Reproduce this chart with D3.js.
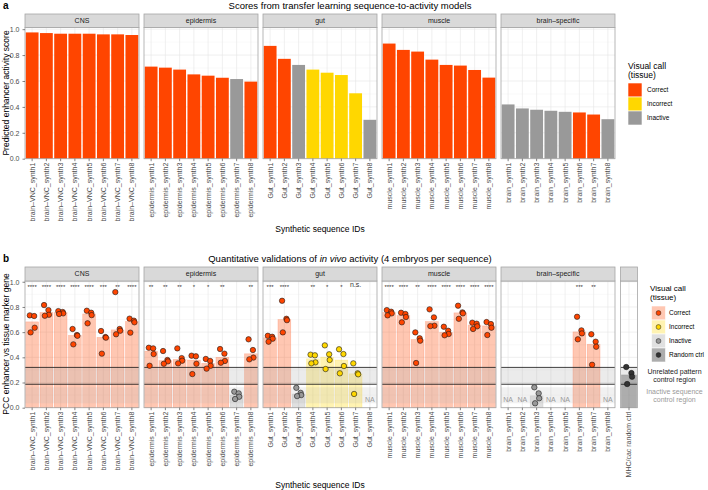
<!DOCTYPE html>
<html>
<head>
<meta charset="utf-8">
<script src="https://cdn.jsdelivr.net/npm/d3@7"></script>
<style>
  body { margin: 0; background: #fff; }
  svg { font-family: "Liberation Sans", Arial, sans-serif; }
  .axis path.domain { display: none; }
  .axis line { stroke: #333; stroke-width: 0.6; }
  .axis text { fill: #4d4d4d; font-size: 7px; }
</style>
</head>
<body>
<svg id="chart" width="708" height="490"></svg>
<script>
// ---------- data ----------
const facetNames = ["CNS", "epidermis", "gut", "muscle", "brain–specific"];

const idsCNS = ["brain–VNC_synth1", "brain–VNC_synth2", "brain–VNC_synth3", "brain–VNC_synth4",
  "brain–VNC_synth5", "brain–VNC_synth6", "brain–VNC_synth7", "brain–VNC_synth8"];
const idsEpidermis = ["epidermis_synth1", "epidermis_synth2", "epidermis_synth3", "epidermis_synth4",
  "epidermis_synth5", "epidermis_synth6", "epidermis_synth7", "epidermis_synth8"];
const idsGut = ["Gut_synth1", "Gut_synth2", "Gut_synth3", "Gut_synth4",
  "Gut_synth5", "Gut_synth6", "Gut_synth7", "Gut_synth8"];
const idsMuscle = ["muscle_synth1", "muscle_synth2", "muscle_synth3", "muscle_synth4",
  "muscle_synth5", "muscle_synth6", "muscle_synth7", "muscle_synth8"];
const idsBrain = ["brain_synth1", "brain_synth2", "brain_synth3", "brain_synth4",
  "brain_synth5", "brain_synth6", "brain_synth7", "brain_synth8"];
const idsRandom = ["MHC/cac random ctrl"];

// visual call per sequence
const callCNS = ["Correct", "Correct", "Correct", "Correct", "Correct", "Correct", "Correct", "Correct"];
const callEpidermis = ["Correct", "Correct", "Correct", "Correct", "Correct", "Correct", "Inactive", "Correct"];
const callGut = ["Correct", "Correct", "Inactive", "Incorrect", "Incorrect", "Incorrect", "Incorrect", "Inactive"];
const callMuscle = ["Correct", "Correct", "Correct", "Correct", "Correct", "Correct", "Correct", "Correct"];
const callBrain = ["Inactive", "Inactive", "Inactive", "Inactive", "Inactive", "Correct", "Correct", "Inactive"];

// panel a: predicted enhancer activity score
const predCNS = [0.975, 0.97, 0.965, 0.965, 0.965, 0.96, 0.96, 0.955];
const predEpidermis = [0.711, 0.703, 0.688, 0.651, 0.641, 0.625, 0.615, 0.595];
const predGut = [0.871, 0.771, 0.724, 0.688, 0.664, 0.646, 0.505, 0.30];
const predMuscle = [0.889, 0.840, 0.827, 0.765, 0.724, 0.719, 0.685, 0.626];
const predBrain = [0.419, 0.388, 0.378, 0.370, 0.362, 0.357, 0.341, 0.305];

// panel b: PCC per embryo (null = NA)
const pccCNS = [[0.733, 0.728, 0.635, 0.598], [0.815, 0.775, 0.738, 0.730], [0.767, 0.760, 0.749, 0.744],
  [0.625, 0.577, 0.571, 0.503], [0.770, 0.754, 0.735, 0.670], [0.609, 0.561, 0.556, 0.429],
  [0.918, 0.625, 0.611, 0.583], [0.707, 0.691, 0.678, 0.596]];
const pccEpidermis = [[0.476, 0.471, 0.426, 0.333], [0.450, 0.379, 0.368, 0.349], [0.471, 0.394, 0.373, 0.352],
  [0.413, 0.408, 0.349, 0.267], [0.387, 0.371, 0.333, 0.310], [0.466, 0.429, 0.371, 0.357],
  [0.127, 0.114, 0.087, 0.069], [0.543, 0.458, 0.398, 0.384]];
const pccGut = [[0.571, 0.563, 0.548, 0.524], [0.849, 0.706, 0.695, 0.598], [0.158, 0.118, 0.100, 0.092],
  [0.421, 0.416, 0.360, 0.352], [0.495, 0.424, 0.379, 0.307], [0.464, 0.426, 0.331, 0.273],
  [0.352, 0.273, 0.265, 0.109], null];
const pccMuscle = [[0.775, 0.762, 0.749, 0.733], [0.754, 0.744, 0.720, 0.678], [0.598, 0.551, 0.532, 0.355],
  [0.781, 0.717, 0.651, 0.648], [0.643, 0.611, 0.585, 0.575], [0.810, 0.757, 0.749, 0.706],
  [0.675, 0.667, 0.646, 0.625], [0.680, 0.664, 0.635, 0.577]];
const pccBrain = [null, null, [0.162, 0.114, 0.075, 0.035], null, null,
  [0.722, 0.614, 0.590, 0.543], [0.583, 0.524, 0.484, 0.341], null];
const pccRandom = [[0.323, 0.275, 0.246, 0.188]];

// significance labels
const starsCNS = ["****", "****", "****", "****", "****", "***", "**", "****"];
const starsEpidermis = ["**", "**", "**", "*", "*", "**", "", "**"];
const starsGut = ["***", "****", "", "**", "*", "*", "n.s.", ""];
const starsMuscle = ["****", "****", "**", "****", "****", "****", "****", "****"];
const starsBrain = ["", "", "", "", "", "***", "**", ""];

// control regions (PCC)
const unrelatedRegion = [0.186, 0.320];
const inactiveRegion = [0.035, 0.162];

const yTicks = [0, 0.2, 0.4, 0.6, 0.8, 1.0];
const yMinor = [0.1, 0.3, 0.5, 0.7, 0.9];
const callLevels = ["Correct", "Incorrect", "Inactive"];

// ---------- styling / layout ----------
const colors = { Correct: "#FF4500", Incorrect: "#FFD700", Inactive: "#999999", Random: "#333333" };
const jitter = [-0.18, 0.16, 0.2, -0.12];
const facetX = [25, 144, 263, 382, 501];
const facetW = 114;

const facets = facetNames.map((name, i) => ({
  name,
  ids: [idsCNS, idsEpidermis, idsGut, idsMuscle, idsBrain][i],
  call: [callCNS, callEpidermis, callGut, callMuscle, callBrain][i],
  pred: [predCNS, predEpidermis, predGut, predMuscle, predBrain][i],
  pcc: [pccCNS, pccEpidermis, pccGut, pccMuscle, pccBrain][i],
  stars: [starsCNS, starsEpidermis, starsGut, starsMuscle, starsBrain][i],
}));

const svg = d3.select("#chart");

const yA = d3.scaleLinear().domain([0, 1.013]).range([158.7, 27.5]);
const yB = d3.scaleLinear().domain([0, 1.006]).range([407.7, 281]);

function drawGrid(g, x, y, w) {
  g.selectAll(".minor").data(yMinor).enter().append("line")
    .attr("x1", 0).attr("x2", w).attr("y1", d => y(d)).attr("y2", d => y(d))
    .attr("stroke", "#f2f2f2").attr("stroke-width", 0.5);
  g.selectAll(".major").data(yTicks).enter().append("line")
    .attr("x1", 0).attr("x2", w).attr("y1", d => y(d)).attr("y2", d => y(d))
    .attr("stroke", "#e6e6e6").attr("stroke-width", 0.6);
  g.selectAll(".vgrid").data(x.domain()).enter().append("line")
    .attr("x1", d => x(d) + x.bandwidth() / 2).attr("x2", d => x(d) + x.bandwidth() / 2)
    .attr("y1", y.range()[0]).attr("y2", y.range()[1])
    .attr("stroke", "#e6e6e6").attr("stroke-width", 0.6);
}

function drawFrame(g, w, y, stripTop, label) {
  const top = y.range()[1], bottom = y.range()[0];
  g.append("rect").attr("x", 0).attr("y", top).attr("width", w).attr("height", bottom - top)
    .attr("fill", "none").attr("stroke", "#a6a6a6").attr("stroke-width", 0.8);
  g.append("rect").attr("x", 0).attr("y", stripTop).attr("width", w).attr("height", top - stripTop)
    .attr("fill", "#d9d9d9").attr("stroke", "#a6a6a6").attr("stroke-width", 0.8);
  g.append("text").attr("x", w / 2).attr("y", (stripTop + top) / 2).attr("dy", "0.35em")
    .attr("text-anchor", "middle").style("font-size", "7px").attr("fill", "#1a1a1a").text(label);
}

function drawXAxis(g, x, y) {
  const ax = g.append("g").attr("class", "axis")
    .attr("transform", `translate(0,${y.range()[0]})`)
    .call(d3.axisBottom(x).tickSize(2.5).tickSizeOuter(0));
  ax.selectAll("text")
    .attr("transform", "rotate(-90)")
    .attr("text-anchor", "end")
    .attr("x", -4).attr("y", 0).attr("dy", "0.35em");
}

function drawYAxis(y) {
  svg.append("g").attr("class", "axis")
    .attr("transform", `translate(${facetX[0]},0)`)
    .call(d3.axisLeft(y).tickValues(yTicks).tickFormat(d3.format(".1f")).tickSize(2.5));
}

// ---------- panel a ----------
svg.append("text").attr("x", 3).attr("y", 9).style("font-size", "10px").style("font-weight", "bold").text("a");
svg.append("text").attr("x", 350).attr("y", 8.5).attr("text-anchor", "middle")
  .style("font-size", "9.5px").text("Scores from transfer learning sequence-to-activity models");

facets.forEach((f, i) => {
  const g = svg.append("g").attr("transform", `translate(${facetX[i]},0)`);
  const x = d3.scaleBand().domain(f.ids).range([0, facetW]).paddingInner(0.1).paddingOuter(0.05);
  drawGrid(g, x, yA, facetW);
  g.selectAll(".bar").data(f.ids).enter().append("rect")
    .attr("class", "bar")
    .attr("x", d => x(d))
    .attr("y", (d, k) => yA(f.pred[k]))
    .attr("width", x.bandwidth())
    .attr("height", (d, k) => yA(0) - yA(f.pred[k]))
    .attr("fill", (d, k) => colors[f.call[k]]);
  drawFrame(g, facetW, yA, 14, f.name);
  drawXAxis(g, x, yA);
});
drawYAxis(yA);

svg.append("text").attr("transform", "translate(9,93) rotate(-90)").attr("text-anchor", "middle")
  .style("font-size", "8.5px").text("Predicted enhancer activity score");
svg.append("text").attr("x", 320).attr("y", 231.5).attr("text-anchor", "middle")
  .style("font-size", "8.5px").text("Synthetic sequence IDs");

// legend a
const legA = svg.append("g").attr("transform", "translate(628,0)");
legA.append("text").attr("y", 68.7).style("font-size", "8.5px").text("Visual call");
legA.append("text").attr("y", 78.3).style("font-size", "8.5px").text("(tissue)");
callLevels.forEach((c, k) => {
  legA.append("rect").attr("x", 0).attr("y", 83 + k * 14).attr("width", 14).attr("height", 14)
    .attr("fill", colors[c]).attr("stroke", "#fff").attr("stroke-width", 0.6);
  legA.append("text").attr("x", 19).attr("y", 90 + k * 14).attr("dy", "0.35em")
    .style("font-size", "6.5px").text(c);
});

// ---------- panel b ----------
svg.append("text").attr("x", 3).attr("y", 262).style("font-size", "10px").style("font-weight", "bold").text("b");
const titleB = svg.append("text").attr("x", 350).attr("y", 261.5).attr("text-anchor", "middle").style("font-size", "9.5px");
titleB.append("tspan").text("Quantitative validations of ");
titleB.append("tspan").style("font-style", "italic").text("in vivo");
titleB.append("tspan").text(" activity (4 embryos per sequence)");

function drawRegions(g, w) {
  g.append("rect").attr("x", 0).attr("width", w)
    .attr("y", yB(inactiveRegion[1])).attr("height", yB(inactiveRegion[0]) - yB(inactiveRegion[1]))
    .attr("fill", "#b0b0b0").attr("opacity", 0.18);
  g.append("rect").attr("x", 0).attr("width", w)
    .attr("y", yB(unrelatedRegion[1])).attr("height", yB(unrelatedRegion[0]) - yB(unrelatedRegion[1]))
    .attr("fill", "#b0b0b0").attr("opacity", 0.25);
  g.selectAll(".ctrl").data(unrelatedRegion).enter().append("line")
    .attr("x1", 0).attr("x2", w).attr("y1", d => yB(d)).attr("y2", d => yB(d))
    .attr("stroke", "#111").attr("stroke-width", 0.8);
}

function drawPccFacet(g, x, ids, calls, pcc, stars, w) {
  drawGrid(g, x, yB, w);
  const rows = ids.map((id, k) => ({ id, call: calls[k], vals: pcc[k], star: stars ? stars[k] : "" }));
  const barFill = c => c === "Random" ? "#333333" : colors[c];
  g.selectAll(".bar").data(rows.filter(r => r.vals)).enter().append("rect")
    .attr("x", d => x(d.id))
    .attr("y", d => yB(d3.median(d.vals)))
    .attr("width", x.bandwidth())
    .attr("height", d => yB(0) - yB(d3.median(d.vals)))
    .attr("fill", d => barFill(d.call)).attr("fill-opacity", d => d.call === "Random" ? 0.4 : 0.3)
    .attr("stroke", d => barFill(d.call)).attr("stroke-opacity", 0.25).attr("stroke-width", 0.6);
  drawRegions(g, w);
  rows.forEach(r => {
    const cx = x(r.id) + x.bandwidth() / 2;
    if (r.vals) {
      g.selectAll(null).data(r.vals).enter().append("circle")
        .attr("cx", (v, j) => cx + jitter[j] * x.bandwidth())
        .attr("cy", v => yB(v))
        .attr("r", 2.7)
        .attr("fill", barFill(r.call))
        .attr("stroke", "#1a1a1a").attr("stroke-width", 0.6);
    } else {
      g.append("text").attr("x", cx).attr("y", yB(0.065)).attr("dy", "0.35em")
        .attr("text-anchor", "middle").style("font-size", "7px").attr("fill", "#999").text("NA");
    }
    if (r.star) {
      g.append("text").attr("x", cx).attr("y", r.star === "n.s." ? yB(0.955) : yB(0.94))
        .attr("text-anchor", "middle")
        .style("font-size", r.star === "n.s." ? "7px" : "6px").attr("fill", "#333").text(r.star);
    }
  });
}

facets.forEach((f, i) => {
  const g = svg.append("g").attr("transform", `translate(${facetX[i]},0)`);
  const x = d3.scaleBand().domain(f.ids).range([0, facetW]).paddingInner(0.1).paddingOuter(0.05);
  drawPccFacet(g, x, f.ids, f.call, f.pcc, f.stars, facetW);
  drawFrame(g, facetW, yB, 267, f.name);
  drawXAxis(g, x, yB);
});

// random control facet
const gR = svg.append("g").attr("transform", "translate(620.5,0)");
const xR = d3.scaleBand().domain(idsRandom).range([0, 17]).paddingInner(0.1).paddingOuter(0.05);
drawPccFacet(gR, xR, idsRandom, ["Random"], pccRandom, null, 17);
drawFrame(gR, 17, yB, 267, "");
drawXAxis(gR, xR, yB);

drawYAxis(yB);

svg.append("text").attr("transform", "translate(9,344) rotate(-90)").attr("text-anchor", "middle")
  .style("font-size", "8.5px").text("PCC enhancer vs tissue marker gene");
svg.append("text").attr("x", 320).attr("y", 487.5).attr("text-anchor", "middle")
  .style("font-size", "8.5px").text("Synthetic sequence IDs");

// legend b
const legB = svg.append("g").attr("transform", "translate(650,0)");
legB.append("text").attr("y", 290.5).style("font-size", "8px").text("Visual call");
legB.append("text").attr("y", 299.5).style("font-size", "8px").text("(tissue)");
callLevels.concat(["Random"]).forEach((c, k) => {
  const y0 = 306 + k * 14;
  legB.append("rect").attr("x", 1.5).attr("y", y0).attr("width", 14).attr("height", 14)
    .attr("fill", colors[c]).attr("fill-opacity", c === "Random" ? 0.4 : 0.3)
    .attr("stroke", "#fff").attr("stroke-width", 0.6);
  legB.append("circle").attr("cx", 8.5).attr("cy", y0 + 7).attr("r", 2.4)
    .attr("fill", colors[c]).attr("stroke", "#1a1a1a").attr("stroke-width", 0.5);
  legB.append("text").attr("x", 19).attr("y", y0 + 7).attr("dy", "0.35em")
    .style("font-size", "6.5px").text(c === "Random" ? "Random ctrl" : c);
});
const regionNotes = [
  { text: "Unrelated pattern", y: 374, fill: "#1a1a1a" },
  { text: "control region", y: 382.3, fill: "#1a1a1a" },
  { text: "Inactive sequence", y: 394, fill: "#999" },
  { text: "control region", y: 402.3, fill: "#999" },
];
legB.selectAll(".note").data(regionNotes).enter().append("text")
  .attr("x", 24.5).attr("y", d => d.y).attr("text-anchor", "middle")
  .style("font-size", "7px").attr("fill", d => d.fill).text(d => d.text);
</script>
</body>
</html>
